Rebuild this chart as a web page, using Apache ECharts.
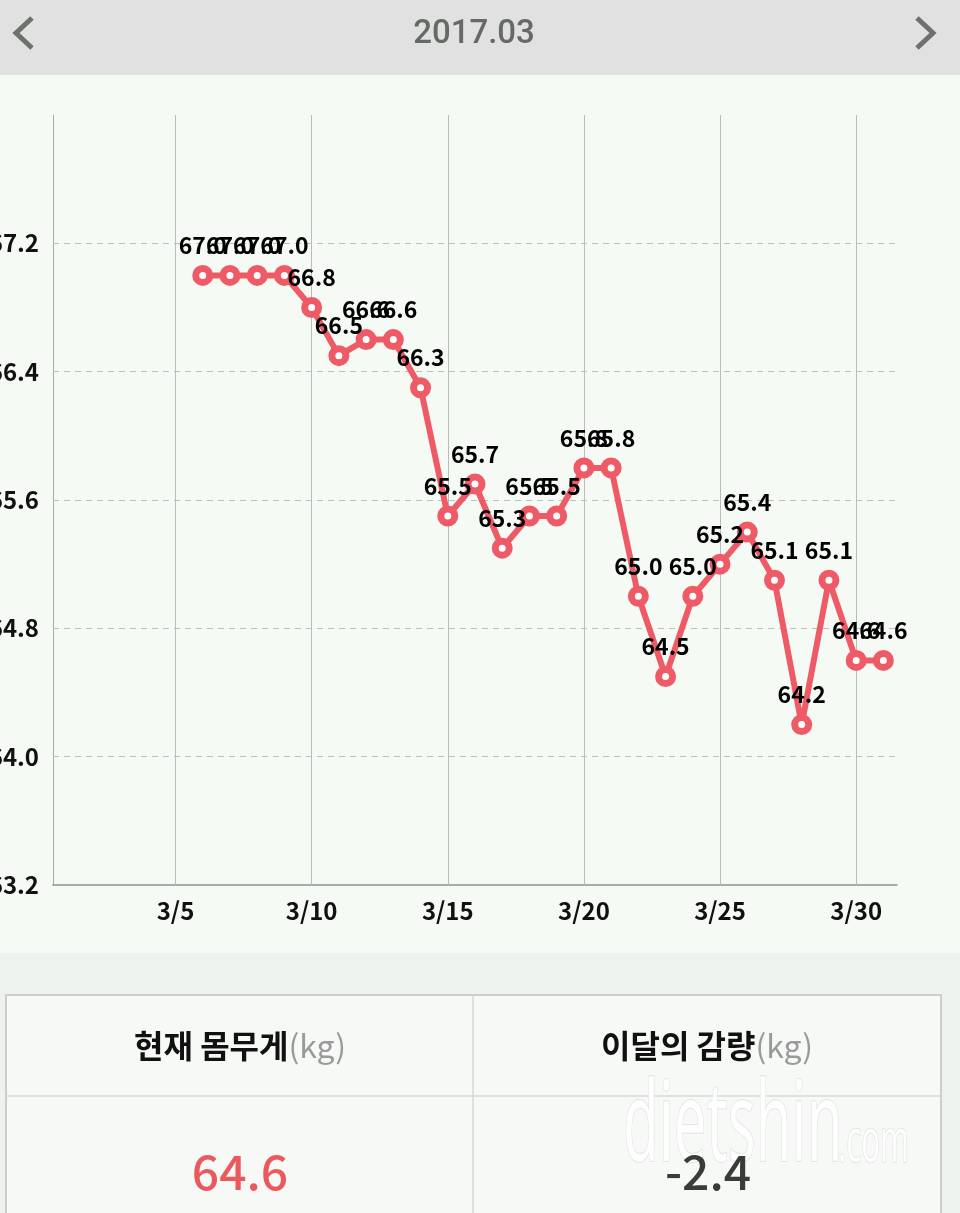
<!DOCTYPE html>
<html>
<head>
<meta charset="utf-8">
<script src="https://cdn.jsdelivr.net/npm/echarts@6/dist/echarts.min.js"></script>
<style>
  html, body { margin: 0; padding: 0; background: #f6faf5; }
  #chart { width: 960px; height: 1213px; }
</style>
</head>
<body>
<div id="chart"></div>
<script>
// 3월 날짜 (카테고리)
var days = ['3/1','3/2','3/3','3/4','3/5','3/6','3/7','3/8','3/9','3/10',
            '3/11','3/12','3/13','3/14','3/15','3/16','3/17','3/18','3/19','3/20',
            '3/21','3/22','3/23','3/24','3/25','3/26','3/27','3/28','3/29','3/30','3/31'];
// 몸무게 (kg), 3/1~3/5 기록 없음
var weights = [null, null, null, null, null, 67.0, 67.0, 67.0, 67.0, 66.8,
               66.5, 66.6, 66.6, 66.3, 65.5, 65.7, 65.3, 65.5, 65.5, 65.8,
               65.8, 65.0, 64.5, 65.0, 65.2, 65.4, 65.1, 64.2, 65.1, 64.6, 64.6];
// X축 표시 날짜, Y축 눈금
var xTickDays = ['3/5', '3/10', '3/15', '3/20', '3/25', '3/30'];
var yTicks = [63.2, 64.0, 64.8, 65.6, 66.4, 67.2];
var yMax = 68.0;
var monthTitle = '2017.03';
var currentWeight = '64.6';
var monthLoss = '-2.4';

var red = '#ef5a67';
var font = '"Noto Sans CJK KR", "Noto Sans", sans-serif';

var chart = echarts.init(document.getElementById('chart'));

// 그리드 선 (세로: 실선, 가로: 점선)
var gridLines = [];
xTickDays.forEach(function (d) {
  gridLines.push({ xAxis: d, lineStyle: { color: '#b9bdb9', type: 'solid', width: 1 } });
});
yTicks.slice(1).forEach(function (v) {
  gridLines.push({ yAxis: v, lineStyle: { color: '#bcbfbc', type: [6, 5], width: 1 } });
});

var option = {
  backgroundColor: '#f6faf5',
  animation: false,
  grid: {
    left: 53, right: 63, top: 115, bottom: 328,
    containLabel: false,
    outerBoundsMode: 'none'
  },
  xAxis: {
    type: 'category',
    data: days,
    boundaryGap: true,
    axisLine: { lineStyle: { color: '#8e928e', width: 1.5 } },
    axisTick: { show: false },
    axisLabel: {
      interval: function (i, v) { return xTickDays.indexOf(v) >= 0; },
      color: '#111',
      fontSize: 24,
      fontWeight: 'bold',
      fontFamily: font,
      margin: 14
    },
    splitLine: { show: false }
  },
  yAxis: {
    type: 'value',
    min: yTicks[0],
    max: yMax,
    interval: 0.8,
    axisLine: { show: true, lineStyle: { color: '#a8aca8', width: 1 } },
    axisTick: { show: false },
    splitLine: { show: false },
    axisLabel: {
      showMaxLabel: false,
      formatter: function (v) { return v.toFixed(1); },
      color: '#111',
      fontSize: 24,
      fontWeight: 'bold',
      fontFamily: font,
      margin: 14
    }
  },
  series: [{
    type: 'line',
    data: weights,
    symbol: 'circle',
    symbolSize: 14,
    showAllSymbol: true,
    lineStyle: { color: red, width: 6 },
    itemStyle: { color: '#fff', borderColor: red, borderWidth: 7 },
    label: {
      show: true,
      position: 'top',
      distance: 8,
      color: '#000',
      fontSize: 23,
      fontWeight: 'bold',
      fontFamily: font,
      formatter: function (p) { return p.value.toFixed(1); }
    },
    markLine: {
      silent: true,
      symbol: 'none',
      label: { show: false },
      emphasis: { disabled: true },
      data: gridLines,
      z: 1
    },
    z: 3
  }],
  graphic: [
    // 상단 헤더
    { type: 'rect', shape: { x: 0, y: 0, width: 960, height: 75 }, style: { fill: '#e1e1e1' }, z: 10 },
    { type: 'text', x: 474, y: 35, z: 11,
      style: { text: monthTitle, fontSize: 33, fontWeight: 500, fontFamily: 'Roboto, sans-serif', fill: '#656a65', align: 'center', verticalAlign: 'middle' } },
    { type: 'polyline', z: 11, shape: { points: [[32, 18], [16, 33], [32, 48]] },
      style: { stroke: '#6d726d', lineWidth: 5, fill: null } },
    { type: 'polyline', z: 11, shape: { points: [[917, 18], [933, 33], [917, 48]] },
      style: { stroke: '#6d726d', lineWidth: 5, fill: null } },
    // 하단 요약 표
    { type: 'rect', shape: { x: 0, y: 953, width: 960, height: 260 }, style: { fill: '#eef2ee' }, z: 10 },
    { type: 'rect', shape: { x: 6, y: 995, width: 935, height: 240 }, style: { fill: '#f6f9f6', stroke: '#c8cfcc', lineWidth: 2 }, z: 11 },
    { type: 'line', shape: { x1: 6, y1: 1096, x2: 941, y2: 1096 }, style: { stroke: '#d5dad7', lineWidth: 1.5 }, z: 12 },
    { type: 'line', shape: { x1: 473, y1: 995, x2: 473, y2: 1213 }, style: { stroke: '#d5dad7', lineWidth: 1.5 }, z: 12 },
    { type: 'text', x: 240, y: 1046, z: 13,
      style: { text: '{a|현재 몸무게}{b|(kg)}', align: 'center', verticalAlign: 'middle',
        rich: { a: { fontSize: 32, fontWeight: 'bold', fontFamily: font, fill: '#111' }, b: { fontSize: 32, fontFamily: font, fill: '#9a9a9a' } } } },
    { type: 'text', x: 707, y: 1046, z: 13,
      style: { text: '{a|이달의 감량}{b|(kg)}', align: 'center', verticalAlign: 'middle',
        rich: { a: { fontSize: 32, fontWeight: 'bold', fontFamily: font, fill: '#111' }, b: { fontSize: 32, fontFamily: font, fill: '#9a9a9a' } } } },
    // 워터마크
    { type: 'text', x: 623, y: 1185, scaleX: 0.52, z: 12,
      style: { text: 'dietshin', fontSize: 112, fontFamily: '"Noto Sans", sans-serif', fill: 'rgba(255,255,255,0.85)', stroke: '#dedede', lineWidth: 1.5, align: 'left', verticalAlign: 'bottom' } },
    { type: 'text', x: 838, y: 1175, scaleX: 0.5, z: 12,
      style: { text: '.com', fontSize: 62, fontFamily: '"Noto Sans", sans-serif', fill: 'rgba(255,255,255,0.85)', stroke: '#dedede', lineWidth: 1.5, align: 'left', verticalAlign: 'bottom' } },
    { type: 'text', x: 240, y: 1172, z: 14,
      style: { text: currentWeight, fontSize: 48, fontWeight: 500, fontFamily: font, fill: '#ea5a5c', align: 'center', verticalAlign: 'middle' } },
    { type: 'text', x: 708, y: 1172, z: 14,
      style: { text: monthLoss, fontSize: 48, fontWeight: 500, fontFamily: font, fill: '#393c39', align: 'center', verticalAlign: 'middle' } }
  ]
};

chart.setOption(option);
</script>
</body>
</html>
